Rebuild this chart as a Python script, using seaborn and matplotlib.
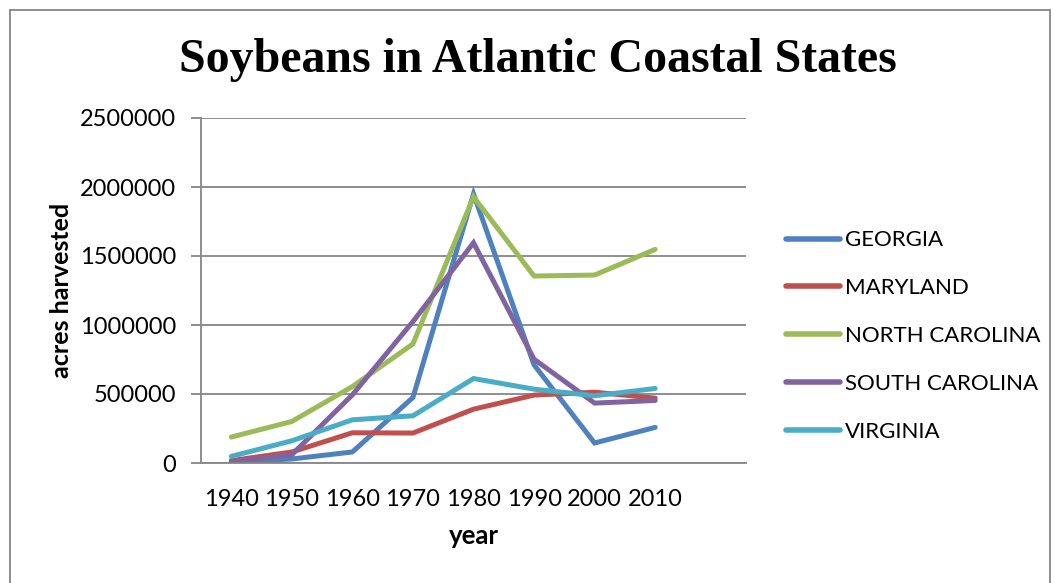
import matplotlib
matplotlib.use("Agg")
import matplotlib.pyplot as plt
from matplotlib.patches import Rectangle
import seaborn as sns
import pandas as pd

# Acres of soybeans harvested per decade
years = ["1940", "1950", "1960", "1970", "1980", "1990", "2000", "2010"]
georgia = [8000, 29000, 80000, 475000, 1950000, 711000, 145000, 258000]
maryland = [17000, 80000, 219000, 217000, 390000, 492000, 513000, 470000]
north_carolina = [188000, 301000, 554000, 863000, 1929000, 1355000, 1362000, 1548000]
south_carolina = [7000, 60000, 494000, 1025000, 1596000, 752000, 434000, 453000]
virginia = [48000, 161000, 313000, 342000, 612000, 535000, 487000, 540000]

states = ["GEORGIA", "MARYLAND", "NORTH CAROLINA", "SOUTH CAROLINA", "VIRGINIA"]
series = [georgia, maryland, north_carolina, south_carolina, virginia]
colors = ["#4F81BD", "#C0504D", "#9BBB59", "#8064A2", "#4BACC6"]

rows = []
for state, vals in zip(states, series):
    for i, (yr, v) in enumerate(zip(years, vals)):
        rows.append({"pos": i, "year": yr, "state": state, "acres": v})
df = pd.DataFrame(rows)

sns.set_theme(style="white")
plt.rcParams["font.family"] = ["Lato", "DejaVu Sans"]
plt.rcParams["text.color"] = "black"
plt.rcParams["axes.labelcolor"] = "black"
plt.rcParams["xtick.labelcolor"] = "black"
plt.rcParams["ytick.labelcolor"] = "black"

fig = plt.figure(figsize=(10.55, 5.83), dpi=100)
fig.patch.set_facecolor("white")
ax = fig.add_axes([201 / 1055, 1 - 463 / 583, 545 / 1055, 345 / 583])

grid_c = "#868686"
sns.lineplot(data=df, x="pos", y="acres", hue="state", hue_order=states,
             palette=colors, linewidth=3.6, sort=False, ax=ax,
             solid_capstyle="round", solid_joinstyle="miter")

# nine category slots, the last one empty
ax.set_xlim(-0.5, 8.5)
ax.set_ylim(0, 2500000)
ax.set_xticks(range(len(years)))
ax.set_xticklabels(years, fontsize=17)
ax.set_xticks([i - 0.5 for i in range(10)], minor=True)
ax.tick_params(axis="x", which="major", length=0, pad=19)
ax.tick_params(axis="x", which="minor", length=7, width=1.3, color=grid_c, direction="out")

yt = list(range(0, 2500001, 500000))
ax.set_yticks(yt)
ax.set_yticklabels([str(v) for v in yt], fontsize=17)
ax.tick_params(axis="y", length=7, width=1.3, color=grid_c, direction="out", pad=11, left=True)
ax.yaxis.grid(True, color=grid_c, linewidth=1.3)
ax.xaxis.grid(False)
ax.set_axisbelow(True)

for s in ["top", "right"]:
    ax.spines[s].set_visible(False)
for s in ["left", "bottom"]:
    ax.spines[s].set_color(grid_c)
    ax.spines[s].set_linewidth(1.3)

ax.set_xlabel("year", fontsize=18.5, fontweight="bold", labelpad=10)
ax.set_ylabel("acres harvested", fontsize=18, fontweight="bold", labelpad=5)

leg = ax.legend(loc="center left", bbox_to_anchor=(1.073, 0.368), frameon=False,
                fontsize=16, handlelength=2.45, handletextpad=0.2,
                labelspacing=1.25, borderaxespad=0, borderpad=0)
for line in leg.get_lines():
    line.set_linewidth(4)
for t in leg.get_texts():
    t.set_color("black")

fig.text(0.51, 1 - 60 / 583, "Soybeans in Atlantic Coastal States",
         ha="center", va="center", fontsize=34.5, fontweight="bold", color="black",
         family=["Liberation Serif", "DejaVu Serif"])

# chart border
fig.patches.append(Rectangle((10 / 1055, -0.05), 1040 / 1055, 1.05 - 10 / 583,
                             transform=fig.transFigure, fill=False,
                             edgecolor=grid_c, linewidth=1.3))

fig.savefig("out.png", dpi=100, facecolor="white")
